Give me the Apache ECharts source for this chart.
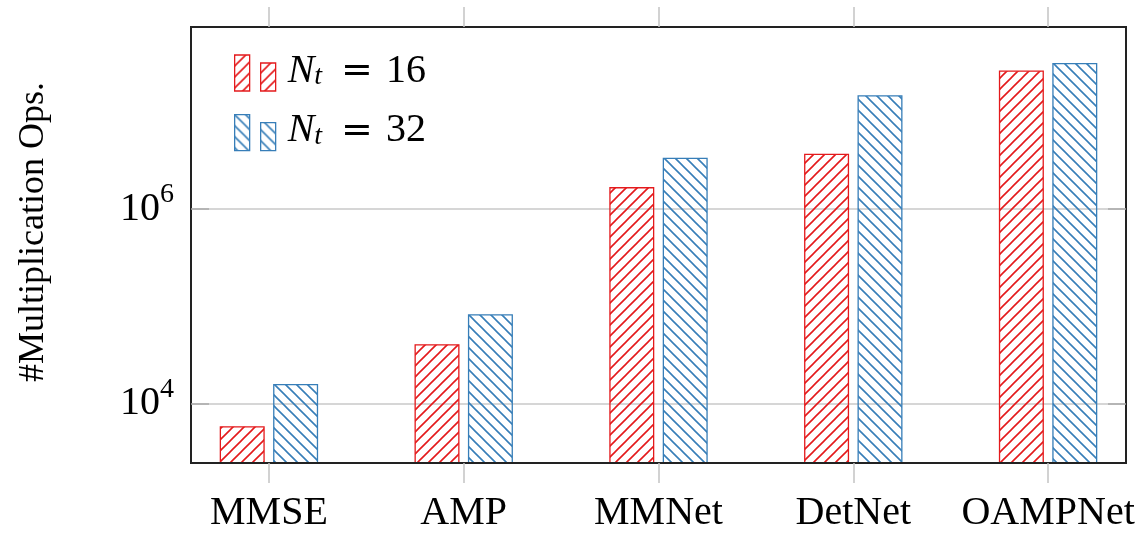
<!DOCTYPE html>
<html>
<head>
<meta charset="utf-8">
<script src="https://cdn.jsdelivr.net/npm/echarts@6/dist/echarts.min.js"></script>
<style>
html, body { margin: 0; padding: 0; background: #fff; }
#chart { width: 1138px; height: 533px; }
</style>
</head>
<body>
<div id="chart"></div>
<script>
// data (log scale)
var categories = ['MMSE', 'AMP', 'MMNet', 'DetNet', 'OAMPNet'];
var opsNt16 = [5900, 41000, 1.68e6, 3.69e6, 2.64e7];
var opsNt32 = [16000, 83000, 3.36e6, 1.47e7, 3.16e7];
var seriesNames = ['Nt = 16', 'Nt = 32'];
var catTicks = [0, 1, 2, 3, 4];
var yTicks = [1e4, 1e6];

var RED = '#e41a1c';
var BLUE = '#377eb8';
var FONT = '"Liberation Serif", "Times New Roman", serif';

// hatch tile, dir 1 = north east lines, -1 = north west lines
function hatch(color, dir) {
	var s = 11;
	var c = document.createElement('canvas');
	c.width = s;
	c.height = s;
	var ctx = c.getContext('2d');
	ctx.strokeStyle = color;
	ctx.lineWidth = 1.6;
	ctx.beginPath();
	for (var k = -1; k <= 1; k++) {
		if (dir > 0) {
			ctx.moveTo(k * s - 2, s + 2);
			ctx.lineTo(k * s + s + 2, -2);
		} else {
			ctx.moveTo(k * s - 2, -2);
			ctx.lineTo(k * s + s + 2, s + 2);
		}
	}
	ctx.stroke();
	return { image: c, repeat: 'repeat' };
}

var chart = echarts.init(document.getElementById('chart'), null, { renderer: 'canvas' });

var frameLine = { show: true, onZero: false, lineStyle: { color: '#222', width: 2 } };
var outTick = { show: true, customValues: catTicks, length: 20, lineStyle: { color: '#c4c4c4', width: 1.5 } };
var inTick = { show: true, inside: true, customValues: yTicks, length: 18, lineStyle: { color: '#aaa', width: 1.5 } };

chart.setOption({
	animation: false,
	backgroundColor: '#fff',
	grid: {
		left: 191, right: 12, top: 27, bottom: 66,
		show: true, borderColor: '#222', borderWidth: 2
	},
	legend: {
		data: seriesNames,
		orient: 'vertical',
		left: 234, top: 51,
		padding: 0,
		itemWidth: 41, itemHeight: 36, itemGap: 19,
		icon: 'path://M0,0L15,0L15,36L0,36Z M26,8L41,8L41,36L26,36Z',
		selectedMode: false,
		itemStyle: { borderWidth: 1.3 },
		formatter: function (name) {
			var v = name.split('=')[1].trim();
			return '{sp| }{n|N}{t|t}{e|=}{v|' + v + '}';
		},
		textStyle: {
			color: '#000',
			rich: {
				sp: { width: 7, lineHeight: 36 },
				n: { fontFamily: FONT, fontStyle: 'italic', fontSize: 40, lineHeight: 23, verticalAlign: 'bottom', color: '#000' },
				t: { fontFamily: FONT, fontStyle: 'italic', fontSize: 28, lineHeight: 6, verticalAlign: 'bottom', color: '#000' },
				e: { fontFamily: 'DejaVu Serif', fontSize: 38, lineHeight: 23, verticalAlign: 'bottom', padding: [0, 13, 0, 19], color: '#000' },
				v: { fontFamily: FONT, fontSize: 40, lineHeight: 23, verticalAlign: 'bottom', color: '#000' }
			}
		}
	},
	xAxis: [{
		type: 'value', min: -0.4, max: 4.4, position: 'bottom', z: 5,
		axisLine: frameLine,
		axisTick: outTick,
		axisLabel: {
			customValues: catTicks,
			formatter: function (v) { return categories[Math.round(v)]; },
			fontFamily: FONT, fontSize: 40, color: '#000', margin: 30
		},
		splitLine: { show: false }
	}, {
		type: 'value', min: -0.4, max: 4.4, position: 'top', z: 5,
		axisLine: frameLine,
		axisTick: outTick,
		axisLabel: { show: false },
		splitLine: { show: false }
	}],
	yAxis: [{
		type: 'log', logBase: 100, min: 2470, max: 7.39e7, position: 'left',
		axisLine: frameLine,
		axisTick: inTick,
		axisLabel: {
			customValues: yTicks,
			margin: 17,
			formatter: function (v) { return '{b|10}{s|' + Math.round(Math.log10(v)) + '}'; },
			rich: {
				b: { fontFamily: FONT, fontSize: 40, lineHeight: 56, verticalAlign: 'middle', color: '#000' },
				s: { fontFamily: FONT, fontSize: 28, lineHeight: 28, verticalAlign: 'top', color: '#000' }
			}
		},
		splitLine: { show: true, lineStyle: { color: '#c8c8c8', width: 1.5 } }
	}, {
		type: 'log', logBase: 100, min: 2470, max: 7.39e7, position: 'right',
		axisLine: frameLine,
		axisTick: inTick,
		axisLabel: { show: false },
		splitLine: { show: false }
	}],
	graphic: [{
		type: 'text', x: 34, y: 232, rotation: Math.PI / 2,
		style: {
			text: '#Multiplication Ops.', fill: '#000',
			font: '36px "Liberation Serif", serif',
			align: 'center', verticalAlign: 'middle'
		}
	}],
	series: [{
		name: seriesNames[0], type: 'bar',
		data: categories.map(function (c, i) { return [i, opsNt16[i]]; }),
		barWidth: 45, barGap: '18.7%',
		itemStyle: { color: hatch(RED, 1), borderColor: RED, borderWidth: 1.3 }
	}, {
		name: seriesNames[1], type: 'bar',
		data: categories.map(function (c, i) { return [i, opsNt32[i]]; }),
		barWidth: 45, barGap: '18.7%',
		itemStyle: { color: hatch(BLUE, -1), borderColor: BLUE, borderWidth: 1.3 }
	}]
});
</script>
</body>
</html>
